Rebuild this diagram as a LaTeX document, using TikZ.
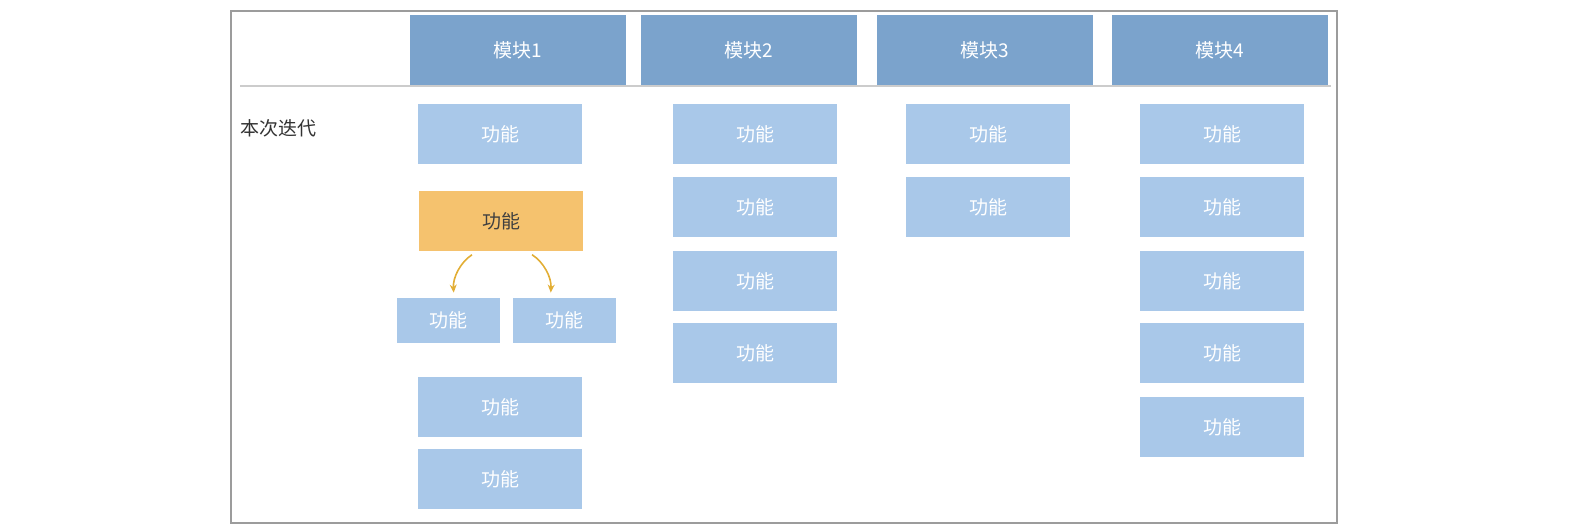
\documentclass[tikz,border=0pt]{standalone}
\usepackage{fontspec}
\setmainfont{Noto Sans CJK SC}
\usetikzlibrary{arrows.meta}
\definecolor{headblue}{HTML}{7BA3CC}
\definecolor{featblue}{HTML}{A9C8E9}
\definecolor{featorange}{HTML}{F5C26E}
\definecolor{arrowgold}{HTML}{E2AE35}
\definecolor{framegray}{HTML}{9C9C9C}

\begin{document}
\begin{tikzpicture}[x=0.5pt,y=-0.5pt,
		every node/.style={font=\fontsize{9.5pt}{11pt}\selectfont,inner sep=0pt},
		module/.style={fill=headblue,text=white,minimum width=108pt,minimum height=35pt},
		feature/.style={fill=featblue,text=white,minimum width=82pt,minimum height=30pt},
		subfeature/.style={feature,minimum width=51.5pt,minimum height=22.5pt},
		current/.style={feature,fill=featorange,text=black!75},
		split/.style={draw=arrowgold,line width=0.8pt,-{Stealth[length=4pt,width=3.5pt]},shorten <=3pt,shorten >=2.5pt}]
		\useasboundingbox (0,0) rectangle (1572,530);
		\draw[framegray,line width=0.8pt] (231,11) rectangle (1337,523);
		\draw[black!20,line width=0.6pt] (240,86) -- (1331,86);
		% modules
		\node[module] (m1) at (518,50) {模块1};
		\node[module] (m2) at (749,50) {模块2};
		\node[module] (m3) at (985,50) {模块3};
		\node[module] (m4) at (1220,50) {模块4};
		\node[text=black!80,anchor=west] (iter) at (240,128) {本次迭代};
		% module 1
		\node[feature] (f11) at (500,134) {功能};
		\node[current] (f12) at (501,221) {功能};
		\node[subfeature] (s1) at (448.5,320.5) {功能};
		\node[subfeature] (s2) at (564.5,320.5) {功能};
		\node[feature] (f13) at (500,407) {功能};
		\node[feature] (f14) at (500,479) {功能};
		\draw[split] ([xshift=-12pt]f12.south) to[bend right=30] ([xshift=2.75pt]s1.north);
		\draw[split] ([xshift=13pt]f12.south) to[bend left=30] ([xshift=-7pt]s2.north);
		% module 2
		\node[feature] (f21) at (755,134) {功能};
		\node[feature] (f22) at (755,207) {功能};
		\node[feature] (f23) at (755,281) {功能};
		\node[feature] (f24) at (755,353) {功能};
		% module 3
		\node[feature] (f31) at (988,134) {功能};
		\node[feature] (f32) at (988,207) {功能};
		% module 4
		\node[feature] (f41) at (1222,134) {功能};
		\node[feature] (f42) at (1222,207) {功能};
		\node[feature] (f43) at (1222,281) {功能};
		\node[feature] (f44) at (1222,353) {功能};
		\node[feature] (f45) at (1222,427) {功能};
\end{tikzpicture}
\end{document}
